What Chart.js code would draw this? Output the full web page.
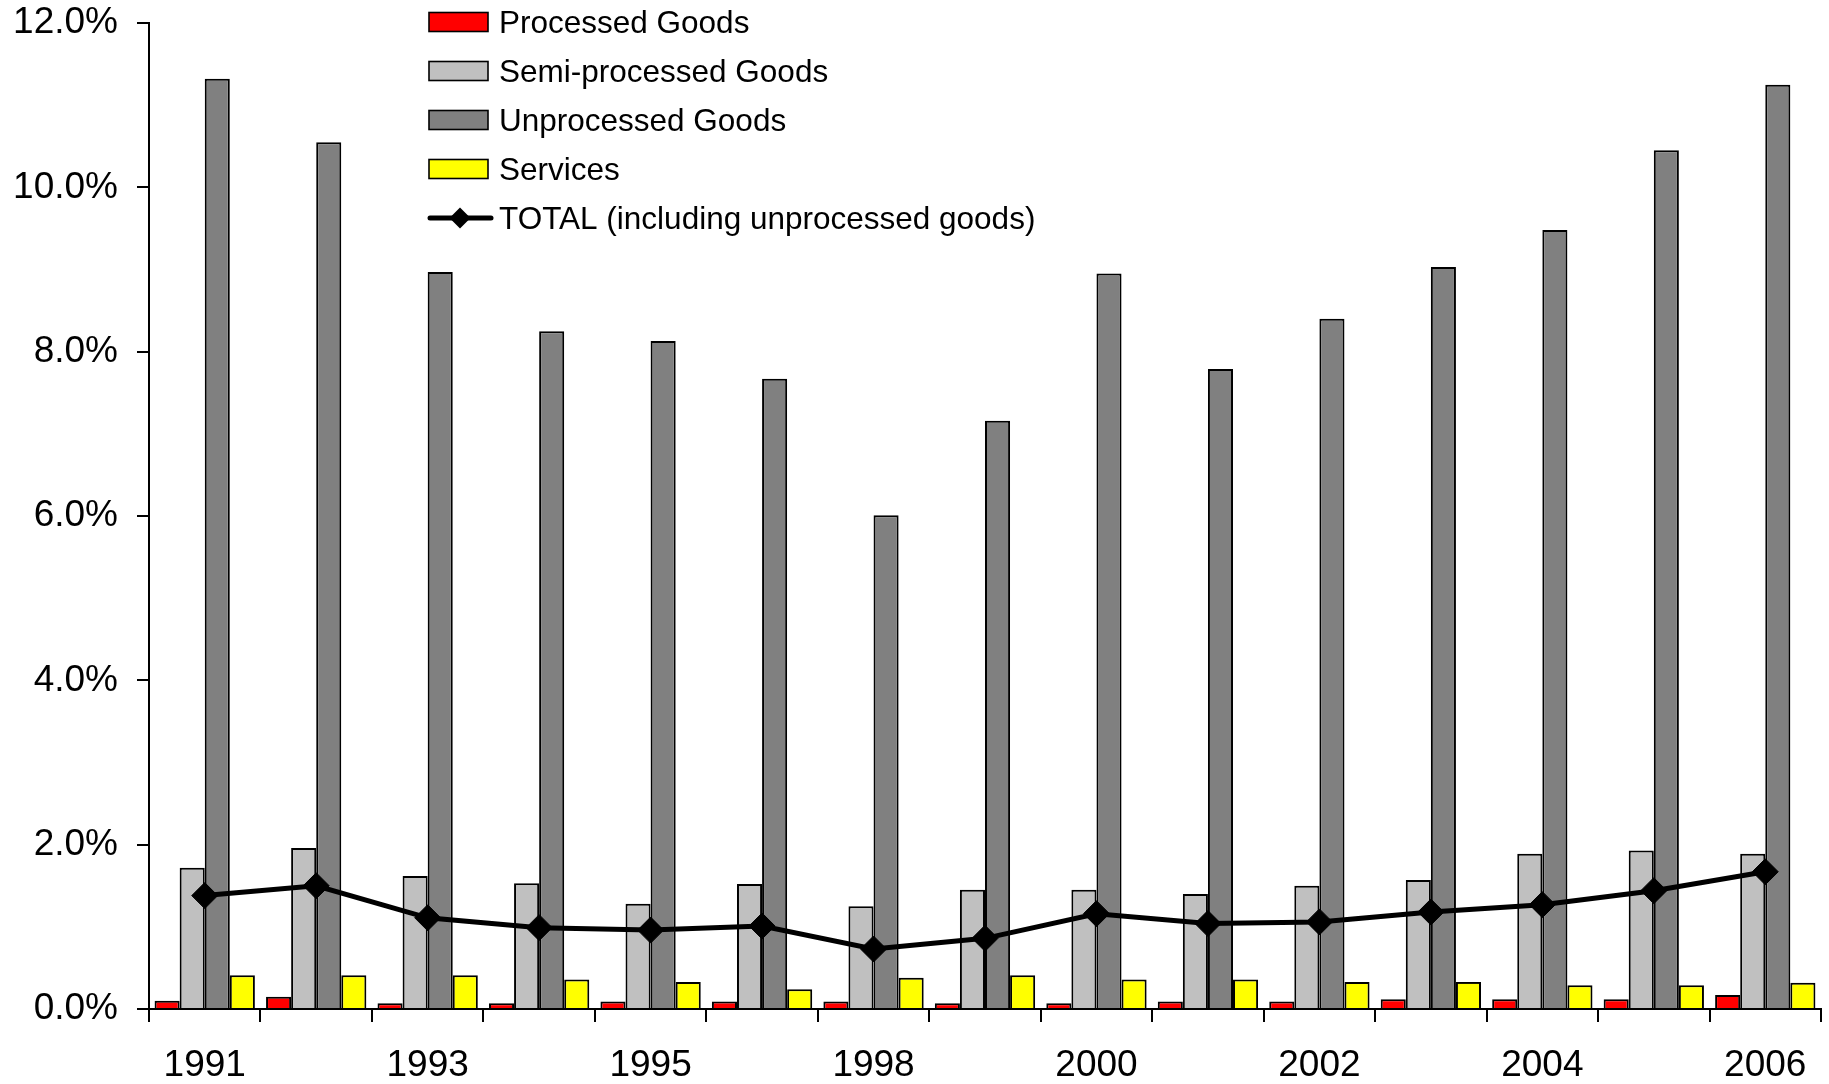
<!DOCTYPE html>
<html>
<head>
<meta charset="utf-8">
<title>Growth by product category, 1991–2006</title>
<script src="https://cdn.jsdelivr.net/npm/chart.js@4"></script>
<style>
  html, body { margin: 0; padding: 0; background: #ffffff; }
  #wrap { width: 1829px; height: 1084px; }
</style>
</head>
<body>
<div id="wrap"><canvas id="chart" width="1829" height="1084"></canvas></div>
<script>
// Years on the category axis (every second one is labelled)
const years = ['1991', '1992', '1993', '1994', '1995', '1996', '1998', '1999',
               '2000', '2001', '2002', '2003', '2004', '2005', '2006'];

// Shares in percent
const processedGoods   = [0.10, 0.15, 0.07, 0.07, 0.09, 0.09, 0.09, 0.07, 0.07, 0.09, 0.09, 0.12, 0.12, 0.12, 0.17];
const semiProcessed    = [1.72, 1.96, 1.62, 1.53, 1.28, 1.52, 1.25, 1.45, 1.45, 1.40, 1.50, 1.57, 1.89, 1.93, 1.89];
const unprocessedGoods = [11.32, 10.55, 8.97, 8.25, 8.13, 7.67, 6.01, 7.16, 8.95, 7.79, 8.40, 9.03, 9.48, 10.45, 11.25];
const services         = [0.41, 0.41, 0.41, 0.36, 0.33, 0.24, 0.38, 0.41, 0.36, 0.36, 0.33, 0.33, 0.29, 0.29, 0.32];
const totalShare       = [1.38, 1.50, 1.11, 0.99, 0.96, 1.01, 0.73, 0.86, 1.16, 1.04, 1.06, 1.18, 1.27, 1.44, 1.67];

// Y axis ticks
const yTicks = [0, 2, 4, 6, 8, 10, 12];

const FONT = '"Liberation Sans", Arial, Helvetica, sans-serif';

// Legend drawn as a stacked list inside the plot area
const boxLegend = {
  id: 'boxLegend',
  afterDraw(chart) {
    const ctx = chart.ctx;
    const x0 = 429, y0 = 22, rowGap = 49;
    ctx.save();
    ctx.font = '31.5px ' + FONT;
    ctx.textBaseline = 'alphabetic';
    ctx.textAlign = 'left';
    chart.data.datasets.forEach((ds, i) => {
      const cy = y0 + i * rowGap;
      if (ds.type === 'line') {
        ctx.strokeStyle = ds.borderColor;
        ctx.lineWidth = 5;
        ctx.lineCap = 'round';
        ctx.beginPath();
        ctx.moveTo(x0 + 1, cy);
        ctx.lineTo(x0 + 62, cy);
        ctx.stroke();
        const cx = x0 + 31, r = 10.5;
        ctx.fillStyle = ds.pointBackgroundColor;
        ctx.beginPath();
        ctx.moveTo(cx - r, cy);
        ctx.lineTo(cx, cy - r);
        ctx.lineTo(cx + r, cy);
        ctx.lineTo(cx, cy + r);
        ctx.closePath();
        ctx.fill();
      } else {
        ctx.fillStyle = ds.backgroundColor;
        ctx.fillRect(x0, cy - 9.5, 59, 19);
        ctx.strokeStyle = '#000';
        ctx.lineWidth = 1.6;
        ctx.strokeRect(x0, cy - 9.5, 59, 19);
      }
      ctx.fillStyle = '#000';
      ctx.fillText(ds.label, x0 + 70, cy + 10.8);
    });
    ctx.restore();
  }
};

const barCommon = {
  type: 'bar',
  borderColor: '#000000',
  borderWidth: 2,
  categoryPercentage: 0.9,
  barPercentage: 1.0,
  order: 1
};

new Chart(document.getElementById('chart'), {
  data: {
    labels: years,
    datasets: [
      Object.assign({ label: 'Processed Goods', data: processedGoods, backgroundColor: '#FF0000' }, barCommon),
      Object.assign({ label: 'Semi-processed Goods', data: semiProcessed, backgroundColor: '#C0C0C0' }, barCommon),
      Object.assign({ label: 'Unprocessed Goods', data: unprocessedGoods, backgroundColor: '#808080' }, barCommon),
      Object.assign({ label: 'Services', data: services, backgroundColor: '#FFFF00' }, barCommon),
      {
        type: 'line',
        label: 'TOTAL (including unprocessed goods)',
        data: totalShare,
        borderColor: '#000000',
        borderWidth: 5,
        tension: 0,
        pointStyle: 'rectRot',
        pointRadius: 13,
        pointBackgroundColor: '#000000',
        pointBorderColor: '#000000',
        pointBorderWidth: 1,
        order: 0
      }
    ]
  },
  options: {
    responsive: false,
    animation: false,
    devicePixelRatio: 1,
    layout: { autoPadding: false, padding: { top: 23, right: 8, bottom: 0, left: 0 } },
    plugins: {
      legend: { display: false },
      tooltip: { enabled: false }
    },
    scales: {
      x: {
        type: 'category',
        offset: true,
        grid: {
          offset: true,
          drawOnChartArea: false,
          drawTicks: true,
          tickLength: 13,
          color: '#000000',
          lineWidth: 2
        },
        border: { display: true, color: '#000000', width: 2 },
        ticks: {
          autoSkip: false,
          maxRotation: 0,
          minRotation: 0,
          color: '#000000',
          padding: 22,
          font: { family: FONT, size: 37 },
          callback: (value, index) => (index % 2 === 0 ? years[index] : '')
        },
        afterFit: (scale) => {
          scale.height = 75;
          scale.paddingLeft = 0;
          scale.paddingRight = 0;
        }
      },
      y: {
        min: yTicks[0],
        max: yTicks[yTicks.length - 1],
        afterBuildTicks: (scale) => { scale.ticks = yTicks.map(v => ({ value: v })); },
        grid: {
          drawOnChartArea: false,
          drawTicks: true,
          tickLength: 12,
          color: '#000000',
          lineWidth: 2
        },
        border: { display: true, color: '#000000', width: 2 },
        ticks: {
          color: '#000000',
          padding: 19,
          font: { family: FONT, size: 37 },
          callback: (value) => Number(value).toFixed(1) + '%'
        },
        afterFit: (scale) => {
          scale.width = 149;
          scale.paddingTop = 0;
          scale.paddingBottom = 0;
        }
      }
    }
  },
  plugins: [boxLegend]
});
</script>
</body>
</html>
